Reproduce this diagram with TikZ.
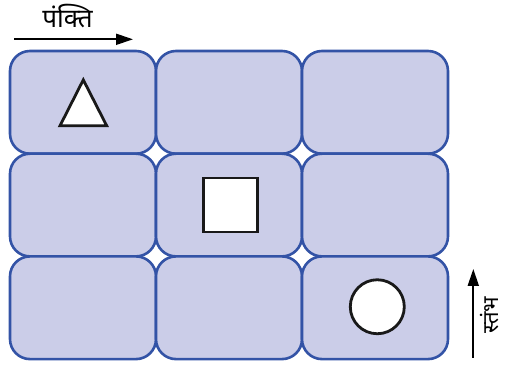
\documentclass[tikz,border=0pt]{standalone}
\usepackage{fontspec}
\newfontfamily\devfont[Script=Devanagari]{Noto Sans}
\usetikzlibrary{arrows.meta}
\definecolor{cellfill}{HTML}{CBCDE8}
\definecolor{celldraw}{HTML}{3353A6}
\begin{document}
\begin{tikzpicture}[x=1pt,y=-1pt,
  cellbox/.style={draw=celldraw,fill=cellfill,line width=2.6pt,rounded corners=20pt,
    minimum width=146pt,minimum height=102.7pt,inner sep=0pt},
  figline/.style={draw=black!90,fill=white,line width=2.8pt},
  axisarrow/.style={line width=2pt,-{Triangle[length=17pt,width=11pt]}},
  lbl/.style={font=\devfont\fontsize{26}{28}\selectfont,inner sep=0pt},
  vlbl/.style={font=\devfont\fontsize{22}{24}\selectfont,inner sep=0pt,rotate=90}]
\useasboundingbox (0,0) rectangle (507,366);
\foreach \r in {1,2,3}{
  \foreach \c in {1,2,3}{
    \node[cellbox] (c\r\c) at ({10+146*(\c-0.5)},{51+102.7*(\r-0.5)}) {};
  }
}
% triangle
\draw[figline,line join=miter] ([shift={(0.3,-22.5)}]c11.center) -- ([shift={(23.7,23.4)}]c11.center) -- ([shift={(-23,23.4)}]c11.center) -- cycle;
% square
\node[figline,minimum size=54pt,inner sep=0pt] (sq) at ([shift={(1.5,0)}]c22.center) {};
% circle
\node[figline,circle,minimum size=54pt,inner sep=0pt] (ci) at ([shift={(2.3,-1)}]c33.center) {};
% top arrow
\coordinate (ta) at (14,39.3);
\coordinate (tb) at (133,39.3);
\draw[axisarrow] (ta) -- (tb);
\node[lbl] (tl) at (67.5,16) {पंक्ति};
% right arrow
\coordinate (ra) at (473.3,358);
\coordinate (rb) at (473.3,269);
\draw[axisarrow] (ra) -- (rb);
\node[vlbl] (rl) at (489.5,315) {स्तंभ};
\end{tikzpicture}
\end{document}
